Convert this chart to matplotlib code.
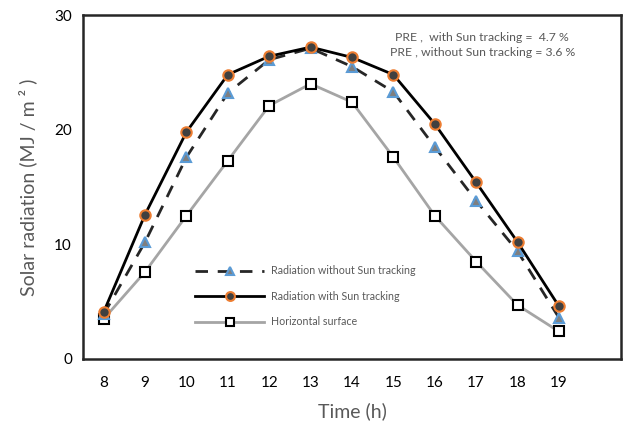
import matplotlib
matplotlib.use("Agg")
from matplotlib import pyplot as plt

plt.rcParams['font.family'] = ['Lato', 'DejaVu Sans']

hours = [8, 9, 10, 11, 12, 13, 14, 15, 16, 17, 18, 19]
no_tracking = [3.9, 10.2, 17.6, 23.2, 26.1, 27.1, 25.5, 23.3, 18.5, 13.8, 9.4, 3.6]
with_tracking = [4.1, 12.6, 19.8, 24.8, 26.4, 27.2, 26.3, 24.8, 20.5, 15.4, 10.2, 4.6]
horizontal = [3.5, 7.6, 12.5, 17.3, 22.1, 24.0, 22.4, 17.6, 12.5, 8.5, 4.7, 2.4]

fig = plt.figure(figsize=(6.25, 4.25), dpi=100)
ax = fig.add_axes([0.1328, 0.1553, 0.8608, 0.8094])

ax.plot(hours, no_tracking, color='#262626', lw=2.0, dashes=(4.5, 3.5),
        marker='^', ms=7.5, mfc='#7f7f7f', mec='#5b9bd5', mew=1.5,
        label='Radiation without Sun tracking', zorder=3)
ax.plot(hours, with_tracking, color='black', lw=2.0,
        marker='o', ms=7.5, mfc='#404040', mec='#ed7d31', mew=1.5,
        label='Radiation with Sun tracking', zorder=4)
ax.plot(hours, horizontal, color='#a5a5a5', lw=2.0,
        marker='s', ms=7.5, mfc='white', mec='black', mew=1.5,
        label='Horizontal surface', zorder=2)

ax.set_xlim(7.5, 20.5)
ax.set_ylim(0, 30)
ax.set_xticks(hours)
ax.set_yticks([0, 10, 20, 30])
ax.tick_params(length=0, labelsize=11, colors='black', pad=12)
ax.tick_params(axis='y', pad=8)
for s in ax.spines.values():
    s.set_color('#262626')
    s.set_linewidth(1.8)

ax.set_xlabel('Time (h)', fontsize=14, color='#595959', labelpad=9)
ax.set_ylabel('Solar radiation (MJ / m ² )', fontsize=14, color='#595959', labelpad=12)

ax.text(0.742, 0.936, 'PRE ,  with Sun tracking =  4.7 %', transform=ax.transAxes,
        ha='center', va='center', fontsize=8.8, color='#595959')
ax.text(0.742, 0.890, 'PRE , without Sun tracking = 3.6 %', transform=ax.transAxes,
        ha='center', va='center', fontsize=8.8, color='#595959')

leg = ax.legend(loc='upper left', bbox_to_anchor=(0.19, 0.30), frameon=False,
                fontsize=7.7, handlelength=6.5, labelspacing=1.35, handletextpad=0.6,
                labelcolor='#595959', markerscale=0.85)

fig.savefig('out.png', dpi=100)
